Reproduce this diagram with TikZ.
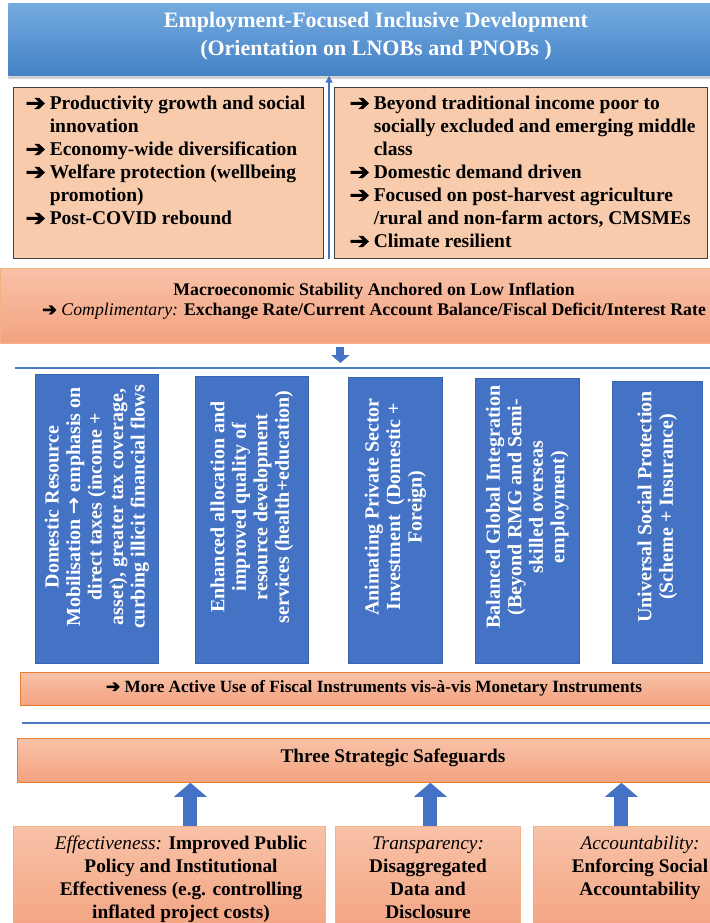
\documentclass[tikz,border=0pt]{standalone}
\usepackage{fontspec}
\setmainfont{Liberation Serif}
\newfontfamily\symfont[BoldFont={DejaVu Sans},BoldFeatures={FakeBold=2}]{DejaVu Sans}
\usetikzlibrary{arrows.meta,shadows,calc}

\definecolor{headtop}{HTML}{74ABE0}
\definecolor{headbot}{HTML}{4581C5}
\definecolor{peach}{HTML}{F8CBAD}
\definecolor{saltop}{HTML}{F8C2A8}
\definecolor{salbot}{HTML}{F3A27F}
\definecolor{salline}{HTML}{F4B183}
\definecolor{orangeline}{HTML}{ED7D31}
\definecolor{pillarblue}{HTML}{4472C4}
\definecolor{pillarline}{HTML}{3A63AE}
\definecolor{rulecol}{HTML}{4A78C4}

\newcommand{\arr}{{\symfont\bfseries ➔}}
\newcommand{\bigarr}{\raisebox{-0.5pt}{\scalebox{1.25}[1.15]{\arr}}}
\newcommand{\rarr}{{\symfont\bfseries →}}

\tikzset{every picture/.style={line width=0.75pt}}
\tikzset{
  headbox/.style={top color=headtop, bottom color=headbot, draw=none, anchor=north west, inner sep=0pt,
    drop shadow={shadow xshift=0pt, shadow yshift=-4pt, opacity=0.35}},
  listbox/.style={fill=peach, draw=black!75, line width=1.2pt, anchor=north west, inner sep=0pt},
  listtext/.style={anchor=north west, inner sep=0pt, font=\fontsize{19.5}{23}\selectfont\bfseries},
  salbox/.style={top color=saltop, bottom color=salbot, draw=salline, anchor=north west, inner sep=0pt},
  pillar/.style={fill=pillarblue, draw=pillarline, anchor=north west, inner sep=0pt},
  pillartext/.style={rotate=90, text=white, align=center, inner sep=0pt, font=\fontsize{20}{21.5}\selectfont\bfseries},
  boxtext/.style={align=center, inner sep=0pt, font=\fontsize{19.3}{23}\selectfont\bfseries},
  rule/.style={draw=rulecol, line width=2.5pt},
  thinup/.style={draw=pillarblue, line width=1.5pt, -{Triangle[width=7pt,length=7pt]}},
  smallblock/.style={draw=pillarblue, line width=8pt, -{Triangle[width=18pt,length=8pt]}},
  blockarrow/.style={draw=pillarblue, line width=14pt, -{Triangle[width=32pt,length=14pt]}}
}

\begin{document}
\begin{tikzpicture}[x=1pt,y=1pt,yscale=-1,xscale=1]
\useasboundingbox (0,0) rectangle (709,923);

%Shape: Rectangle (header)
\node[headbox, minimum width=740pt, minimum height=72pt] (head) at (8,3) {};
\node[text=white, align=center, inner sep=0pt, font=\fontsize{22}{28}\selectfont\bfseries] (headtxt) at (376,36)
  {Employment-Focused Inclusive Development\\(Orientation on LNOBs and PNOBs )};

%Shape: Rectangle (two list boxes)
\node[listbox, minimum width=310pt, minimum height=171pt] (prod) at (13,87) {};
\node[listbox, minimum width=373pt, minimum height=171pt] (reach) at (334,87) {};

\node[listtext] (prodtxt) at (25,93.5) {\begin{tabular}{@{}l@{\hspace{4pt}}l@{}}
  \bigarr & Productivity growth and social\\
          & innovation\\
  \bigarr & Economy-wide diversification\\
  \bigarr & Welfare protection (wellbeing\\
          & promotion)\\
  \bigarr & Post-COVID rebound
\end{tabular}};
\node[listtext] (reachtxt) at (349,93.5) {\begin{tabular}{@{}l@{\hspace{4pt}}l@{}}
  \bigarr & Beyond traditional income poor to\\
          & socially excluded and emerging middle\\
          & class\\
  \bigarr & Domestic demand driven\\
  \bigarr & Focused on post-harvest agriculture\\
          & /rural and non-farm actors, CMSMEs\\
  \bigarr & Climate resilient
\end{tabular}};

%Straight Lines (arrow up to header)
\coordinate (gapmid) at ($(prod.south east)!0.5!(reach.south west)$);
\draw[thinup] (gapmid) -- (gapmid |- head.south);

%Shape: Rectangle (macro stability)
\node[salbox, minimum width=748pt, minimum height=75pt] (macro) at (0,268) {};
\node[align=center, inner sep=0pt, font=\fontsize{17.8}{20.5}\selectfont\bfseries] (macrotxt) at (374,301)
  {Macroeconomic Stability Anchored on Low Inflation\\
   \arr\ \textit{\mdseries Complimentary:} Exchange Rate/Current Account Balance/Fiscal Deficit/Interest Rate};

%Straight Lines (rule and small arrow)
\coordinate (r1w) at (15,368);
\coordinate (r1e) at (712,368);
\draw[rule] (r1w) -- (r1e);
\draw[smallblock, shorten <=3pt, shorten >=5pt] ([xshift=-34pt]macro.south) -- ([xshift=-34pt]macro.south |- r1w);

%Shape: Rectangle (five pillars)
\coordinate (txtrow) at (0,507);
\node[pillar, minimum width=123pt, minimum height=289pt] (p1) at (35,374) {};
\node[pillar, minimum width=113pt, minimum height=287pt] (p2) at (195,376) {};
\node[pillar, minimum width=94pt, minimum height=286pt] (p3) at (348,377) {};
\node[pillar, minimum width=104pt, minimum height=285pt] (p4) at (475,378) {};
\node[pillar, minimum width=90pt, minimum height=282pt] (p5) at (612,381) {};

\node[pillartext] (p1txt) at (p1.center |- txtrow) {Domestic Resource\\Mobilisation \rarr\ emphasis on\\direct taxes (income +\\asset), greater tax coverage,\\curbing illicit financial flows};
\node[pillartext] (p2txt) at (p2.center |- txtrow) {Enhanced allocation and\\improved quality of\\resource development\\services (health+education)};
\node[pillartext] (p3txt) at (p3.center |- txtrow) {Animating Private Sector\\Investment \ (Domestic +\\Foreign)};
\node[pillartext] (p4txt) at (p4.center |- txtrow) {Balanced Global Integration\\(Beyond RMG and Semi-\\skilled overseas\\employment)};
\node[pillartext] (p5txt) at (p5.center |- txtrow) {Universal Social Protection\\(Scheme + Insurance)};

%Shape: Rectangle (fiscal instruments)
\node[salbox, draw=orangeline, minimum width=707pt, minimum height=33pt] (fiscal) at (20,672) {};
\node[inner sep=0pt, font=\fontsize{17.2}{20}\selectfont\bfseries] (fiscaltxt) at (374,688)
  {\arr\ More Active Use of Fiscal Instruments vis-à-vis Monetary Instruments};

%Straight Lines (second rule)
\coordinate (r2w) at (22,723);
\coordinate (r2e) at (712,723);
\draw[rule] (r2w) -- (r2e);

%Shape: Rectangle (safeguards)
\node[salbox, draw=orangeline, minimum width=755pt, minimum height=44pt] (safe) at (17,738) {};
\node[inner sep=0pt, font=\fontsize{19.3}{22}\selectfont\bfseries] (safetxt) at (393,758) {Three Strategic Safeguards};

%Shape: Rectangle (three safeguard boxes)
\node[salbox, minimum width=312pt, minimum height=110pt] (eff) at (13,826) {};
\node[salbox, minimum width=185pt, minimum height=110pt] (trans) at (335,826) {};
\node[salbox, minimum width=220pt, minimum height=110pt] (acc) at (533,826) {};

\node[boxtext, anchor=north] (efftxt) at (181,836)
  {\textit{\mdseries Effectiveness:} Improved Public\\Policy and Institutional\\Effectiveness (e.g. controlling\\inflated project costs)};
\node[boxtext, anchor=north] (transtxt) at (428,836)
  {\textit{\mdseries Transparency:}\\Disaggregated\\Data and\\Disclosure};
\node[boxtext, anchor=north] (acctxt) at (640,836)
  {\textit{\mdseries Accountability:}\\Enforcing Social\\Accountability};

%Block arrows up to safeguards
\draw[blockarrow] ([xshift=21pt]eff.north) -- ([xshift=21pt]eff.north |- safe.south);
\draw[blockarrow] ([xshift=2.5pt]trans.north) -- ([xshift=2.5pt]trans.north |- safe.south);
\draw[blockarrow] ([xshift=-22pt]acc.north) -- ([xshift=-22pt]acc.north |- safe.south);

\end{tikzpicture}
\end{document}
